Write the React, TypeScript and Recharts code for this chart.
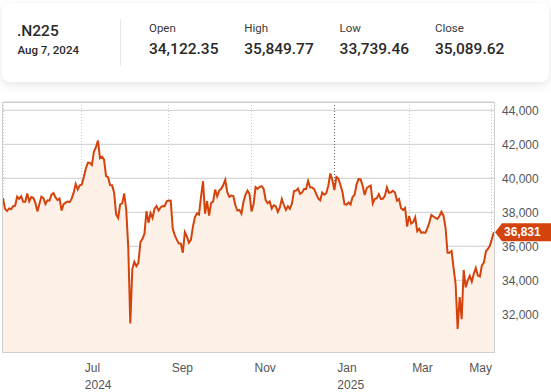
import React from 'react';
import { AreaChart, Area, XAxis, YAxis, CartesianGrid, ReferenceDot } from 'recharts';

// trading days and closes, one pair of arrays per month
const days2405 = [7, 8, 9, 10, 13, 14, 15, 16, 17, 20, 21, 22, 23, 24, 27, 28, 29, 30, 31];
const close2405 = [38835, 38202, 38073, 38229, 38179, 38356, 38385, 38920, 38787, 38946, 38617, 38617, 39103, 38646, 38900, 38855, 38556, 38054, 38487];
const days2406 = [3, 4, 5, 6, 7, 10, 11, 12, 13, 14, 17, 18, 19, 20, 21, 24, 25, 26, 27, 28];
const close2406 = [38923, 38837, 38490, 38703, 38683, 39038, 39134, 38876, 38720, 38814, 38102, 38482, 38570, 38633, 38596, 38804, 39173, 39667, 39341, 39583];
const days2407 = [1, 2, 3, 4, 5, 8, 9, 10, 11, 12, 16, 17, 18, 19, 22, 23, 24, 25, 26, 29, 30, 31];
const close2407 = [39631, 40074, 40580, 40913, 40912, 40780, 41580, 41831, 42224, 41190, 41275, 41098, 40126, 40063, 39599, 39594, 39155, 37870, 37668, 38469, 38526, 39102];
const days2408 = [1, 2, 5, 6, 7, 8, 9, 13, 14, 15, 16, 19, 20, 21, 22, 23, 26, 27, 28, 29, 30];
const close2408 = [38126, 35910, 31458, 34675, 35090, 34831, 35025, 36232, 36443, 36727, 38063, 37389, 37952, 37671, 38211, 38364, 38110, 38289, 38372, 38363, 38648];
const days2409 = [2, 3, 4, 5, 6, 9, 10, 11, 12, 13, 17, 18, 19, 20, 24, 25, 26, 27, 30];
const close2409 = [38700, 38686, 37047, 36657, 36392, 36159, 36159, 35620, 36833, 36582, 36204, 36380, 37155, 37724, 37941, 37871, 38926, 39830, 37920];
const days2410 = [1, 2, 3, 4, 7, 8, 9, 10, 11, 15, 16, 17, 18, 21, 22, 23, 24, 25, 28, 29, 30, 31];
const close2410 = [38651, 37809, 38552, 38636, 39333, 38938, 39278, 39381, 39606, 39911, 39181, 38911, 38982, 38955, 38412, 38105, 38143, 37914, 38606, 39028, 39278, 39081];
const days2411 = [1, 5, 6, 7, 8, 11, 12, 13, 14, 15, 18, 19, 20, 21, 22, 25, 26, 27, 28, 29];
const close2411 = [38054, 38475, 39481, 39381, 39500, 39533, 39377, 38722, 38536, 38643, 38221, 38415, 38352, 38026, 38284, 38781, 38443, 38135, 38349, 38208];
const days2412 = [2, 3, 4, 5, 6, 9, 10, 11, 12, 13, 16, 17, 18, 19, 20, 23, 24, 25, 26, 27, 30];
const close2412 = [38513, 39249, 39277, 39396, 39091, 39161, 39368, 39373, 39850, 39471, 39458, 39365, 39082, 38814, 38702, 39161, 39037, 39130, 39568, 40281, 39895];
const days2501 = [6, 7, 8, 9, 10, 14, 15, 16, 17, 20, 21, 22, 23, 24, 27, 28, 29, 30, 31];
const close2501 = [39307, 40083, 39981, 39605, 39190, 38474, 38445, 38573, 38451, 38903, 39028, 39646, 39959, 39932, 39566, 39017, 39415, 39514, 39573];
const days2502 = [3, 4, 5, 6, 7, 10, 12, 13, 14, 17, 18, 19, 20, 21, 25, 26, 27, 28];
const close2502 = [38520, 38798, 38832, 39067, 38787, 38801, 38964, 39462, 39150, 39174, 39271, 39165, 38678, 38777, 38238, 38143, 38256, 37156];
const days2503 = [3, 4, 5, 6, 7, 10, 11, 12, 13, 14, 17, 18, 19, 21, 24, 25, 26, 27, 28, 31];
const close2503 = [37785, 37331, 37418, 37705, 36887, 37028, 36793, 36819, 36790, 37053, 37397, 37846, 37752, 37677, 37608, 37780, 38028, 37800, 37120, 35618];
const days2504 = [1, 2, 3, 4, 7, 8, 9, 10, 11, 14, 15, 16, 17, 18, 21, 22, 23, 24, 25, 28, 30];
const close2504 = [35625, 35726, 34736, 33781, 31137, 33013, 31715, 34609, 33586, 33983, 34268, 33921, 34377, 34730, 34280, 34221, 34869, 35040, 35706, 35840, 36046];
const days2505 = [1, 2];
const close2505 = [36453, 36831];

const tickMonths = ['2024-07', '2024-09', '2024-11', '2025-01', '2025-03', '2025-05'];
const yTicks = [32000, 34000, 36000, 38000, 40000, 42000, 44000];
const yDomain = [29780, 44490];

const symbol = '.N225';
const quoteDate = 'Aug 7, 2024';
const quoteLabels = ['Open', 'High', 'Low', 'Close'];
const quoteValues = ['34,122.35', '35,849.77', '33,739.46', '35,089.62'];

const monthNames = ['Jan', 'Feb', 'Mar', 'Apr', 'May', 'Jun', 'Jul', 'Aug', 'Sep', 'Oct', 'Nov', 'Dec'];

const LINE = '#d5430c';
const FILL = '#fdf0e7';
const AXIS_FONT = '"Liberation Sans", Arial, sans-serif';

const months: [string, number[], number[]][] = [
  ['2024-05', days2405, close2405],
  ['2024-06', days2406, close2406],
  ['2024-07', days2407, close2407],
  ['2024-08', days2408, close2408],
  ['2024-09', days2409, close2409],
  ['2024-10', days2410, close2410],
  ['2024-11', days2411, close2411],
  ['2024-12', days2412, close2412],
  ['2025-01', days2501, close2501],
  ['2025-02', days2502, close2502],
  ['2025-03', days2503, close2503],
  ['2025-04', days2504, close2504],
  ['2025-05', days2505, close2505],
];

const data = months.flatMap(([ym, days, closes]) =>
  days.map((d, i) => ({ date: `${ym}-${String(d).padStart(2, '0')}`, close: closes[i] }))
);
const xTicks = tickMonths.map((m) => data.find((r) => r.date.startsWith(m))!.date);
const last = data[data.length - 1];
const janIdx = xTicks.findIndex((d) => d.slice(5, 7) === '01');

const MonthTick = (props: any) => {
  const { x, y, payload, index } = props;
  const [yr, mo] = payload.value.split('-');
  const isLast = index === xTicks.length - 1;
  const showYear = index === 0 || mo === '01';
  return (
    <text
      x={isLast ? x : x + 3}
      y={y + 20}
      textAnchor={isLast ? 'end' : 'start'}
      fontSize={12}
      fontFamily={AXIS_FONT}
      fill="#555"
    >
      <tspan x={isLast ? x : x + 3}>{monthNames[Number(mo) - 1]}</tspan>
      {showYear && (
        <tspan x={x + 3} dy={17}>
          {yr}
        </tspan>
      )}
    </text>
  );
};

const LastBadge = (props: any) => {
  const { cx, cy } = props;
  const tip = cx + 1;
  return (
    <g>
      <polygon
        points={`${tip},${cy} ${tip + 7},${cy - 9} 551,${cy - 9} 551,${cy + 9} ${tip + 7},${cy + 9}`}
        fill={LINE}
      />
      <text
        x={tip + 9}
        y={cy}
        dy="0.36em"
        fill="#fff"
        fontSize={12}
        fontWeight="bold"
        fontFamily={AXIS_FONT}
      >
        {last.close.toLocaleString('en-US')}
      </text>
    </g>
  );
};

const gridLine = (p: any) => (
  <line
    key={p.key}
    x1={p.x1}
    y1={p.y1}
    x2={p.x2}
    y2={p.y2}
    stroke={p.index === janIdx ? '#666' : '#c8c8c8'}
    strokeDasharray="1 2"
    shapeRendering="crispEdges"
  />
);

export default function App() {
  return (
    <div style={{ position: 'absolute', left: 0, top: 0, width: 551, height: 392, background: '#fff', overflow: 'hidden' }}>
      <div
        style={{
          position: 'absolute',
          left: 2,
          top: 3,
          width: 547,
          height: 79,
          background: '#fff',
          borderRadius: 8,
          boxShadow: '0 3px 10px rgba(0,0,0,0.10)',
        }}
      >
        <svg width={547} height={79} style={{ position: 'absolute', left: 0, top: 0 }} fontFamily="Roboto, sans-serif">
          <text x={15} y={33} fontSize={15.5} fontWeight={500} fill="#2a2a2a">
            {symbol}
          </text>
          <text x={15.5} y={51} fontSize={11.5} fontWeight={500} fill="#2a2a2a">
            {quoteDate}
          </text>
          <line x1={118.5} x2={118.5} y1={16} y2={63} stroke="#e8e8e8" />
          {quoteLabels.map((l, i) => (
            <g key={l}>
              <text x={147 + i * 95.3} y={29.3} fontSize={11.5} fill="#3a3a3a">
                {l}
              </text>
              <text x={147 + i * 95.3} y={51} fontSize={15.5} fontWeight={500} fill="#2a2a2a">
                {quoteValues[i]}
              </text>
            </g>
          ))}
        </svg>
      </div>

      <div style={{ position: 'absolute', left: 0, top: 0 }}>
        <AreaChart width={551} height={392} data={data} margin={{ top: 102, right: 0, bottom: 0, left: 3 }}>
          <CartesianGrid
            horizontal={{ stroke: '#c8c8c8', strokeDasharray: '1 2', shapeRendering: 'crispEdges' } as any}
            vertical={gridLine as any}
          />
          <XAxis
            dataKey="date"
            ticks={xTicks}
            interval={0}
            height={40}
            tickLine={false}
            axisLine={false}
            tickSize={0}
            tickMargin={0}
            tick={(p: any) => <MonthTick {...p} />}
          />
          <YAxis
            orientation="right"
            width={57}
            domain={yDomain}
            ticks={yTicks}
            tickLine={false}
            axisLine={false}
            tickFormatter={(v: number) => v.toLocaleString('en-US')}
            tick={{ fontSize: 12, fill: '#555', fontFamily: AXIS_FONT }}
          />
          <Area
            type="linear"
            dataKey="close"
            stroke={LINE}
            strokeWidth={2}
            fill={FILL}
            fillOpacity={1}
            dot={false}
            activeDot={false}
            isAnimationActive={false}
          />
          <ReferenceDot x={last.date} y={last.close} r={0} ifOverflow="visible" shape={(p: any) => <LastBadge {...p} />} />
        </AreaChart>
      </div>

      <div
        style={{
          position: 'absolute',
          left: 2,
          top: 102,
          width: 493,
          height: 251,
          border: '1px solid #cfcfcf',
          boxSizing: 'border-box',
          pointerEvents: 'none',
        }}
      />
    </div>
  );
}
